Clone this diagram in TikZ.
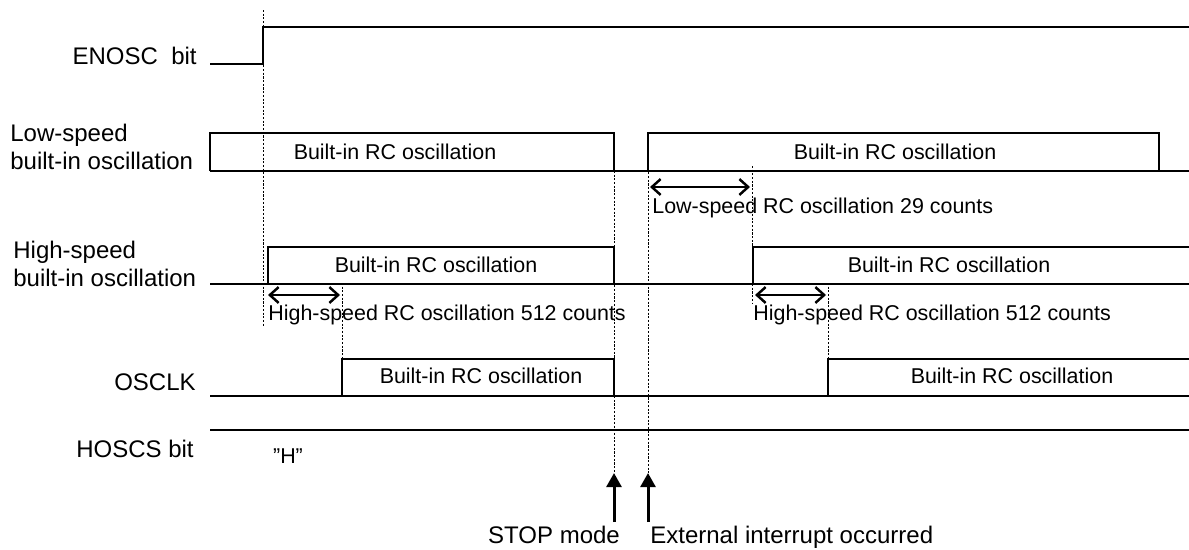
\documentclass[tikz,border=0pt]{standalone}
\usepackage{fontspec}
\setmainfont{Liberation Sans}
\usetikzlibrary{arrows.meta}
\newcommand{\lblfont}{\fontsize{13.66}{16}\selectfont}
\newcommand{\txtfont}{\fontsize{12.2}{14}\selectfont}

\begin{document}
\begin{tikzpicture}[x=0.02cm, y=-0.02cm,
    sig/.style={line width=0.8pt},
    guide/.style={line width=0.4pt, dash pattern=on 1.2pt off 0.9pt},
    span/.style={{Straight Barb[length=5pt,width=9pt]}-{Straight Barb[length=5pt,width=9pt]}, line width=1.4pt},
    evt/.style={-{Triangle[length=8pt,width=8.5pt]}, line width=1.7pt},
    lbl/.style={font=\lblfont, inner sep=0pt},
    txt/.style={font=\txtfont, inner sep=0pt}]
  \useasboundingbox (0,0) rectangle (1189,549);

  % signal names
  \node[lbl, anchor=base east] (enosc) at (197,64) {ENOSC~ bit};
  \node[lbl, anchor=south west, align=left] (lowlbl) at (10,170) {Low-speed\\built-in oscillation};
  \node[lbl, anchor=south west, align=left] (highlbl) at (13,287) {High-speed\\built-in oscillation};
  \node[lbl, anchor=base east] (osclk) at (196,390) {OSCLK};
  \node[lbl, anchor=base east] (hoscs) at (194,457) {HOSCS bit};

  % guides
  \draw[guide] (263,10) -- (263,327);
  \draw[guide] (614,171) -- (614,473);
  \draw[guide] (648,165) -- (648,473);
  \draw[guide] (752,166) -- (752,303);
  \draw[guide] (342,283) -- (342,359);
  \draw[guide] (828,283) -- (828,359);

  % waveforms
  \draw[sig] (210,64) -- (263,64) -- (263,27) -- (1189,27);
  \draw[sig] (210,171) -- (1189,171);
  \draw[sig] (210,171) |- (614,133) -- (614,171);
  \draw[sig] (648,171) |- (1159,133) -- (1159,171);
  \draw[sig] (210,284) -- (1189,284);
  \draw[sig] (268,284) |- (614,247) -- (614,284);
  \draw[sig] (753,284) |- (1189,247);
  \draw[sig] (210,396) -- (1189,396);
  \draw[sig] (342,396) |- (614,359) -- (614,396);
  \draw[sig] (828,396) |- (1189,359);
  \draw[sig] (210,430) -- (1189,430);

  \node[txt, anchor=base] (lowA) at (395,159) {Built-in RC oscillation};
  \node[txt, anchor=base] (lowB) at (895,159) {Built-in RC oscillation};
  \node[txt, anchor=base] (highA) at (436,272) {Built-in RC oscillation};
  \node[txt, anchor=base] (highB) at (949,272) {Built-in RC oscillation};
  \node[txt, anchor=base] (clkA) at (481,383) {Built-in RC oscillation};
  \node[txt, anchor=base] (clkB) at (1012,383) {Built-in RC oscillation};
  \node[txt, anchor=base] (hval) at (288,463) {”H”};

  % counts
  \coordinate (lowS) at (650,187);
  \coordinate (lowE) at (750,187);
  \coordinate (highAS) at (268,295);
  \coordinate (highAE) at (340,295);
  \coordinate (highBS) at (755,295);
  \coordinate (highBE) at (826,295);
  \draw[span] (lowS) -- (lowE);
  \draw[span] (highAS) -- (highAE);
  \draw[span] (highBS) -- (highBE);
  \node[txt, anchor=base west] (lowcnt) at (652,213) {Low-speed RC oscillation 29 counts};
  \node[txt, anchor=base west] (highcntA) at (268,320) {High-speed RC oscillation 512 counts};
  \node[txt, anchor=base west] (highcntB) at (753,320) {High-speed RC oscillation 512 counts};

  % events
  \node[lbl, anchor=base] (stop) at (554,543) {STOP mode};
  \node[lbl, anchor=base west] (extint) at (650,543) {External interrupt occurred};
  \coordinate (stopTip) at (614,473);
  \coordinate (stopTail) at (614,522);
  \coordinate (extTip) at (648,473);
  \coordinate (extTail) at (648,522);
  \draw[evt] (stopTail) -- (stopTip);
  \draw[evt] (extTail) -- (extTip);
\end{tikzpicture}
\end{document}
